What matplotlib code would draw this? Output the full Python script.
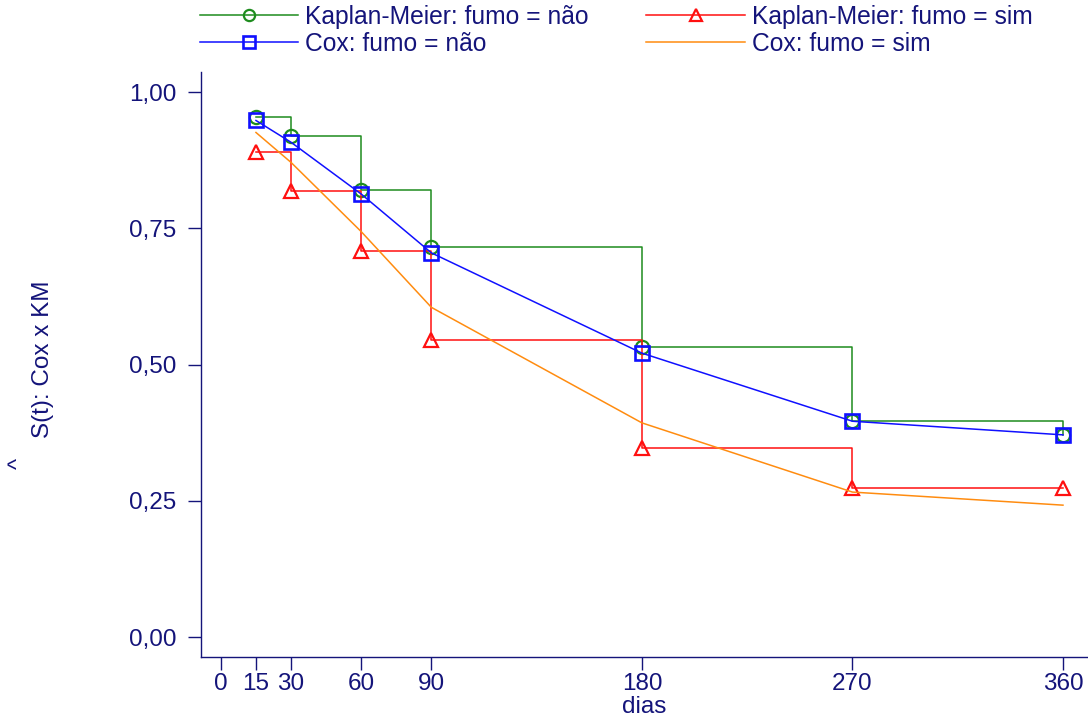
import matplotlib
matplotlib.use("Agg")
import matplotlib.pyplot as plt

# tempos (dias) e sobrevivência estimada
dias = [15, 30, 60, 90, 180, 270, 360]
km_nao = [0.954, 0.919, 0.820, 0.716, 0.532, 0.396, 0.371]
km_sim = [0.891, 0.818, 0.708, 0.545, 0.347, 0.273, 0.273]
cox_nao = [0.948, 0.908, 0.813, 0.705, 0.521, 0.396, 0.371]
cox_sim = [0.926, 0.871, 0.744, 0.605, 0.393, 0.266, 0.242]

xticks = [0, 15, 30, 60, 90, 180, 270, 360]
yticks = [0, 0.25, 0.5, 0.75, 1.0]
ytick_labels = ["0,00", "0,25", "0,50", "0,75", "1,00"]

navy = "#14147a"
plt.rcParams['font.family'] = ['Liberation Sans', 'DejaVu Sans']

fig = plt.figure(figsize=(10.88, 7.17), dpi=100)
ax = fig.add_axes([201 / 1088, 1 - 657 / 717, 887 / 1088, 585 / 717])

ax.step(dias, km_nao, where='post', color='#1e8c1e', lw=1.1, marker='o', ms=9.5,
        mfc='none', mew=1.6, label='Kaplan-Meier: fumo = não')
ax.step(dias, km_sim, where='post', color='#ff1010', lw=1.1, marker='^', ms=10,
        mfc='none', mew=1.6, label='Kaplan-Meier: fumo = sim')
ax.plot(dias, cox_nao, color='#1010ff', lw=1.1, marker='s', ms=10,
        mfc='none', mew=1.9, label='Cox: fumo = não')
ax.plot(dias, cox_sim, color='#ff8c10', lw=1.1, label='Cox: fumo = sim')

ax.set_xlim(-8.5, 370.7)
ax.set_ylim(-0.0367, 1.037)
ax.set_xticks(xticks)
ax.set_xticklabels([str(t) for t in xticks])
ax.set_yticks(yticks)
ax.set_yticklabels(ytick_labels)

for s in ['top', 'right']:
    ax.spines[s].set_visible(False)
for s in ['left', 'bottom']:
    ax.spines[s].set_color(navy)
    ax.spines[s].set_linewidth(1.0)
ax.tick_params(colors=navy, labelsize=17.5, length=9.5, width=1.0, pad=8)
ax.tick_params(axis='x', pad=2)

ax.set_xlabel('dias', fontsize=17.5, color=navy, labelpad=1)
fig.text(43 / 1088, 1 - 359 / 717, 'S(t): Cox x KM', rotation=90, fontsize=17.5,
         color=navy, ha='center', va='center')
fig.text(19 / 1088, 1 - 463 / 717, '^', rotation=90, fontsize=17,
         color=navy, ha='center', va='center')

handles, labels = ax.get_legend_handles_labels()
order = [0, 2, 1, 3]
leg = ax.legend([handles[i] for i in order], [labels[i] for i in order],
                ncol=2, loc='upper left', bbox_to_anchor=(200 / 1088, 1 - 5 / 717),
                bbox_transform=fig.transFigure, frameon=False, fontsize=17.7,
                handlelength=4.0, handletextpad=0.28, columnspacing=2.35,
                labelspacing=0.12, borderpad=0, borderaxespad=0, markerscale=0.85)
for t in leg.get_texts():
    t.set_color(navy)

fig.savefig('out.png', dpi=100)
